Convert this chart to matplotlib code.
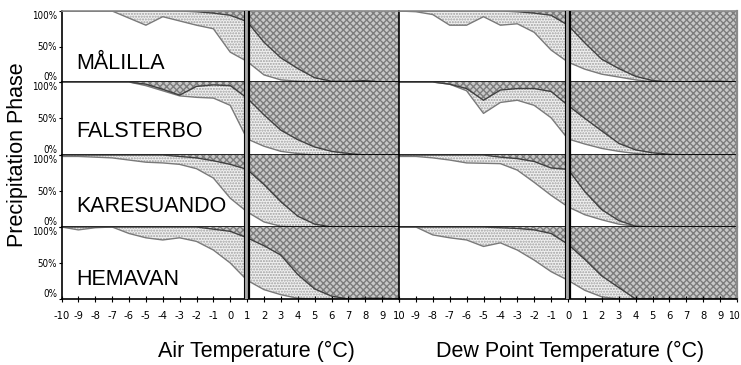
import matplotlib
matplotlib.use('Agg')
import matplotlib.pyplot as plt
import matplotlib.transforms as mtransforms
import numpy as np

plt.rcParams['font.family'] = ['Liberation Sans', 'DejaVu Sans']
plt.rcParams['hatch.linewidth'] = 1.0

temps = list(range(-10, 11))
stations = ['MÅLILLA', 'FALSTERBO', 'KARESUANDO', 'HEMAVAN']
thresholds = [1.0, 0.0]  # air temperature, dew point temperature
xlabels = ['Air Temperature (°C)', 'Dew Point Temperature (°C)']
ylabel = 'Precipitation Phase'
ytick_vals = [0, 0.5, 1.0]
ytick_labels = ['0%', '50%', '100%']

# snow fraction (lower boundary) and snow+mixed fraction (upper boundary)
air_snow_malilla = [1, 1, 1, 1, 0.90, 0.80, 0.92, 0.86, 0.80, 0.75, 0.42, 0.29, 0.10, 0.03, 0.01, 0, 0, 0, 0, 0, 0]
air_upper_malilla = [1, 1, 1, 1, 1, 1, 1, 1, 0.99, 0.97, 0.94, 0.85, 0.56, 0.34, 0.19, 0.06, 0.01, 0.01, 0.02, 0, 0]
air_snow_falsterbo = [1, 1, 1, 1, 1, 0.95, 0.88, 0.81, 0.79, 0.78, 0.68, 0.22, 0.12, 0.05, 0.02, 0, 0, 0, 0, 0, 0]
air_upper_falsterbo = [1, 1, 1, 1, 1, 0.97, 0.90, 0.82, 0.94, 0.96, 0.95, 0.78, 0.55, 0.34, 0.21, 0.11, 0.05, 0.02, 0, 0, 0]
air_snow_karesuando = [0.98, 0.98, 0.97, 0.96, 0.93, 0.90, 0.89, 0.87, 0.81, 0.68, 0.40, 0.21, 0.07, 0.01, 0, 0, 0, 0, 0, 0, 0]
air_upper_karesuando = [1, 1, 1, 1, 1, 1, 1, 0.98, 0.96, 0.92, 0.87, 0.80, 0.59, 0.35, 0.15, 0.04, 0, 0, 0, 0, 0]
air_snow_hemavan = [1.0, 0.96, 0.99, 1.0, 0.91, 0.85, 0.82, 0.85, 0.80, 0.68, 0.50, 0.26, 0.13, 0.06, 0.01, 0, 0, 0, 0, 0, 0]
air_upper_hemavan = [1, 1, 1, 1, 1, 1, 1, 1, 1, 0.97, 0.94, 0.85, 0.74, 0.61, 0.34, 0.14, 0.04, 0, 0.01, 0.01, 0]

dew_snow_malilla = [1.0, 0.99, 0.95, 0.80, 0.80, 0.92, 0.80, 0.82, 0.70, 0.45, 0.28, 0.18, 0.11, 0.07, 0.03, 0, 0, 0, 0, 0, 0]
dew_upper_malilla = [1, 1, 1, 1, 1, 1, 1, 0.99, 0.97, 0.94, 0.80, 0.55, 0.32, 0.19, 0.08, 0.02, 0, 0, 0.01, 0.01, 0]
dew_snow_falsterbo = [1, 1, 1, 0.97, 0.88, 0.57, 0.72, 0.75, 0.68, 0.51, 0.22, 0.15, 0.09, 0.05, 0.02, 0, 0, 0, 0, 0, 0]
dew_upper_falsterbo = [1, 1, 1, 0.97, 0.91, 0.75, 0.89, 0.91, 0.91, 0.87, 0.68, 0.50, 0.33, 0.16, 0.07, 0.03, 0.01, 0, 0, 0, 0]
dew_snow_karesuando = [0.98, 0.98, 0.96, 0.93, 0.89, 0.885, 0.88, 0.79, 0.62, 0.44, 0.28, 0.17, 0.10, 0.04, 0.01, 0, 0, 0, 0, 0, 0]
dew_upper_karesuando = [1, 1, 1, 1, 1, 1, 0.97, 0.95, 0.91, 0.82, 0.80, 0.49, 0.24, 0.09, 0.01, 0, 0, 0, 0, 0, 0]
dew_snow_hemavan = [1.0, 1.0, 0.89, 0.85, 0.82, 0.73, 0.78, 0.68, 0.54, 0.38, 0.26, 0.12, 0.03, 0, 0, 0, 0, 0, 0, 0, 0]
dew_upper_hemavan = [1, 1, 1, 1, 1, 1, 0.99, 0.98, 0.96, 0.91, 0.76, 0.55, 0.32, 0.16, 0, 0, 0, 0, 0, 0, 0]

snow = [
    [air_snow_malilla, dew_snow_malilla],
    [air_snow_falsterbo, dew_snow_falsterbo],
    [air_snow_karesuando, dew_snow_karesuando],
    [air_snow_hemavan, dew_snow_hemavan],
]
upper = [
    [air_upper_malilla, dew_upper_malilla],
    [air_upper_falsterbo, dew_upper_falsterbo],
    [air_upper_karesuando, dew_upper_karesuando],
    [air_upper_hemavan, dew_upper_hemavan],
]

W, H = 741, 365
fig = plt.figure(figsize=(W / 100, H / 100), dpi=100)
fig.patch.set_facecolor('white')

col_x = [(61.5, 399), (399, 737)]
row_y = [(11, 82), (82, 155), (155, 227), (227, 299)]
name_y = [0.19, 0.24, 0.21, 0.19]

tick_font = ['Liberation Sans Narrow', 'DejaVu Sans']

for r in range(4):
    for c in range(2):
        x0, x1 = col_x[c]
        yt, yb = row_y[r]
        ax = fig.add_axes([x0 / W, 1 - yb / H, (x1 - x0) / W, (yb - yt) / H])
        s = np.array(snow[r][c])
        u = np.array(upper[r][c])
        t = np.array(temps)
        ax.fill_between(t, 0, s, facecolor='white', lw=0)
        ax.fill_between(t, s, u, facecolor='#f0f0f0', edgecolor='#a0a0a0', hatch='......', lw=0)
        ax.fill_between(t, u, 1, facecolor='#c8c8c8', edgecolor='#7c7c7c', hatch='xxxxx', lw=0)
        ax.plot(t, s, color='#7a7a7a', lw=1.0)
        ax.plot(t, u, color='#404040', lw=1.0)
        thr = thresholds[c]
        ax.axvspan(thr - 0.2, thr + 0.15, facecolor='#a8a8a8', lw=0, zorder=4)
        ax.axvline(thr - 0.2, color='black', lw=0.8, zorder=5)
        ax.axvline(thr + 0.12, color='black', lw=1.6, zorder=5)
        ax.set_xlim(-10, 10)
        ax.set_ylim(0, 1)

        for side in ['top', 'right']:
            ax.spines[side].set_visible(False)
        ax.spines['bottom'].set_color('black')
        ax.spines['bottom'].set_linewidth(1.2)
        ax.spines['left'].set_color('black')
        ax.spines['left'].set_linewidth(1.2)
        if r == 0:
            ax.spines['top'].set_visible(True)
            ax.spines['top'].set_color('#8a8a8a')
            ax.spines['top'].set_linewidth(1.2)
        if c == 1:
            ax.spines['right'].set_visible(True)
            ax.spines['right'].set_color('#8a8a8a')
            ax.spines['right'].set_linewidth(1.6)

        # y axis
        if c == 0:
            ax.set_yticks(ytick_vals)
            ax.set_yticklabels(ytick_labels, family=tick_font, stretch='condensed', fontsize=7)
            ax.tick_params(axis='y', length=2, width=0.8, pad=1)
            labs = ax.get_yticklabels()
            labs[0].set_va('bottom')
            labs[2].set_va('top')
            ax.text(0.043, name_y[r], stations[r], transform=ax.transAxes,
                    fontsize=15.5, va='baseline', ha='left', zorder=6)
        else:
            ax.set_yticks([])

        # x axis
        ax.set_xticks(temps)
        if r == 3:
            if c == 0:
                lbls = [str(v) for v in temps]
            else:
                lbls = ['' if v == -10 else str(v) for v in temps]
            ax.set_xticklabels(lbls, family=tick_font, stretch='condensed', fontsize=8)
            ax.tick_params(axis='x', direction='inout', length=5, width=0.8, pad=6)
            if c == 1:
                last = ax.get_xticklabels()[-1]
                last.set_fontsize(7.5)
                last.set_transform(last.get_transform() +
                                   mtransforms.ScaledTranslation(-3.5 / 100, 0, fig.dpi_scale_trans))
        else:
            ax.tick_params(axis='x', bottom=False, labelbottom=False)

fig.text(17.5 / W, 1 - 155 / H, ylabel, rotation=90, fontsize=15.5, ha='center', va='center')
fig.text(256 / W, 1 - 351 / H, xlabels[0], fontsize=15.5, ha='center', va='center')
fig.text(570.5 / W, 1 - 351 / H, xlabels[1], fontsize=15.5, ha='center', va='center')

fig.savefig('out.png', dpi=100, facecolor='white')
